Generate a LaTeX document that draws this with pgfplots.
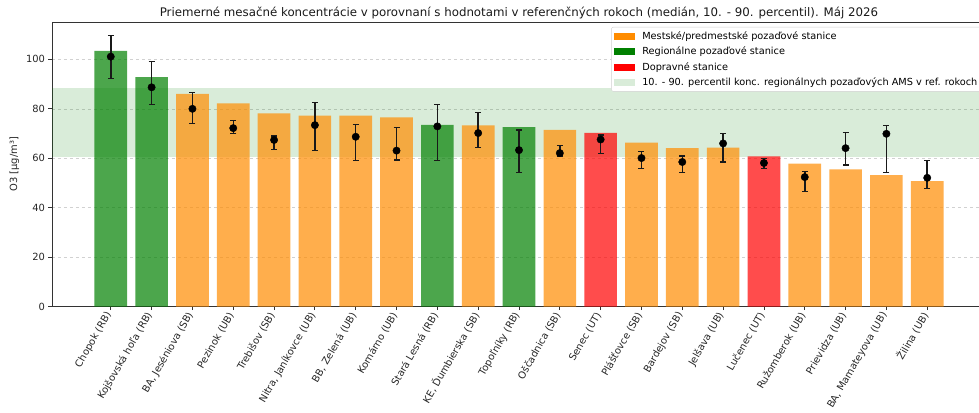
\documentclass[border=0pt]{standalone}
\usepackage{fontspec}
\setmainfont{DejaVu Sans}
\usepackage{pgfplots}
\pgfplotsset{compat=1.18}
\usepackage{pgfplotstable}

\definecolor{dorange}{RGB}{255,140,0}
\definecolor{mgreen}{RGB}{0,128,0}
\definecolor{mred}{RGB}{255,0,0}
\definecolor{bandgreen}{RGB}{217,236,217}

% x  median  p10  p90
\pgfplotstableread{
x med lo hi
0 101.1 92.3 109.5
1 88.7 81.9 99.0
2 80.0 74.0 86.5
3 72.2 69.9 75.2
4 67.4 63.6 69.0
5 73.4 63.1 82.6
6 68.7 59.0 73.7
7 63.1 59.3 72.5
8 72.9 59.0 81.9
9 70.2 64.4 78.6
10 63.3 54.2 71.4
11 62.1 60.9 65.1
12 67.6 61.8 69.4
13 60.1 55.9 62.8
14 58.5 54.2 60.9
15 66.0 58.5 70.1
16 58.1 55.9 59.8
17 52.4 46.5 54.6
18 64.1 57.3 70.5
19 69.9 54.2 73.3
20 52.1 47.7 59.2
}\medtable

\begin{document}
\begin{tikzpicture}
\begin{axis}[
  at={(0pt,0pt)}, anchor=south west,
  scale only axis, width=934pt, height=284.7pt,
  xmin=-1.44, xmax=21.44, ymin=0, ymax=115.1,
  xtick={0,...,20},
  xticklabels={Chopok (RB), Kojšovská hoľa (RB), {BA, Jeséniova (SB)}, Pezinok (UB), Trebišov (SB), {Nitra, Janíkovce (UB)}, {BB, Zelená (UB)}, Komárno (UB), Stará Lesná (RB), {KE, Ďumbierska (SB)}, Topoľníky (RB), Oščadnica (SB), Senec (UT), Plášťovce (SB), Bardejov (SB), Jelšava (UB), Lučenec (UT), Ružomberok (UB), Prievidza (UB), {BA, Mamateyova (UB)}, Žilina (UB)},
  xticklabel style={rotate=60, anchor=east, font=\fontsize{9.9}{11}\selectfont, text=black!85},
  yticklabel style={font=\fontsize{9.9}{11}\selectfont, text=black!85},
  ytick={0,20,...,100},
  tick align=outside, tick pos=left,
  major tick length=3.5pt,
  every tick/.style={black!80, line width=0.8pt},
  axis line style={black!80, line width=0.8pt},
  ymajorgrids,
  grid style={dashed, black!18, line width=0.6pt},
  ylabel={O3 [µg/m³]},
  ylabel style={font=\fontsize{9.9}{11}\selectfont, text=black!85},
  title={Priemerné mesačné koncentrácie v porovnaní s hodnotami v referenčných rokoch (medián, 10. - 90. percentil). Máj 2026},
  title style={at={(0.5,1)}, anchor=base, yshift=-0.5pt, font=\fontsize{11.8}{13}\selectfont, text=black!90},
  /pgf/number format/assume math mode=true,
  legend cell align=left,
  legend style={at={(1,1)}, anchor=north east, xshift=-4pt, yshift=-5pt,
    font=\fontsize{9.75}{11}\selectfont, draw=black!18, rounded corners=2pt,
    fill=white, inner sep=2.5pt, row sep=2pt,
    /tikz/every odd column/.append style={column sep=6pt}},
]
% legend entries
\addlegendimage{legend image code/.code={\fill[dorange, sharp corners] (0pt,-3pt) rectangle (20pt,3pt);}}
\addlegendentry{Mestské/predmestské pozaďové stanice}
\addlegendimage{legend image code/.code={\fill[mgreen, sharp corners] (0pt,-3pt) rectangle (20pt,3pt);}}
\addlegendentry{Regionálne pozaďové stanice}
\addlegendimage{legend image code/.code={\fill[mred, sharp corners] (0pt,-3pt) rectangle (20pt,3pt);}}
\addlegendentry{Dopravné stanice}
\addlegendimage{legend image code/.code={\fill[bandgreen, sharp corners] (0pt,-3pt) rectangle (20pt,3pt);}}
\addlegendentry{10. - 90. percentil konc. regionálnych pozaďových AMS v ref. rokoch}

% reference band
\addplot[draw=none, fill=mgreen, fill opacity=0.15, forget plot]
  coordinates {(-1.44,60.6) (21.44,60.6) (21.44,88.5) (-1.44,88.5)} -- cycle;

% bars
\addplot[ybar, bar width=0.8, bar shift=0pt, draw=none, fill=mgreen, fill opacity=0.7, forget plot]
  coordinates {(0,103.4) (1,92.8) (8,73.5) (10,72.6)};
\addplot[ybar, bar width=0.8, bar shift=0pt, draw=none, fill=dorange, fill opacity=0.7, forget plot]
  coordinates {(2,86.0) (3,82.2) (4,78.2) (5,77.2) (6,77.2) (7,76.5) (9,73.3) (11,71.5) (13,66.3) (14,64.1) (15,64.3) (17,57.8) (18,55.5) (19,53.2) (20,50.8)};
\addplot[ybar, bar width=0.8, bar shift=0pt, draw=none, fill=mred, fill opacity=0.7, forget plot]
  coordinates {(12,70.3) (16,60.8)};

% medians with 10-90 percentile
\addplot[only marks, mark=*, mark size=3.7pt, black, forget plot,
  error bars/.cd, y dir=both, y explicit,
  error bar style={line width=1.5pt, black!90},
  error mark options={rotate=90, mark size=3pt, line width=1.2pt, black!90}]
  table[x=x, y=med, y error plus expr=\thisrow{hi}-\thisrow{med}, y error minus expr=\thisrow{med}-\thisrow{lo}] {\medtable};
\end{axis}
\pgfresetboundingbox
\path[use as bounding box] (-52pt,-105.3pt) rectangle (927pt,306.7pt);
\end{tikzpicture}
\end{document}
